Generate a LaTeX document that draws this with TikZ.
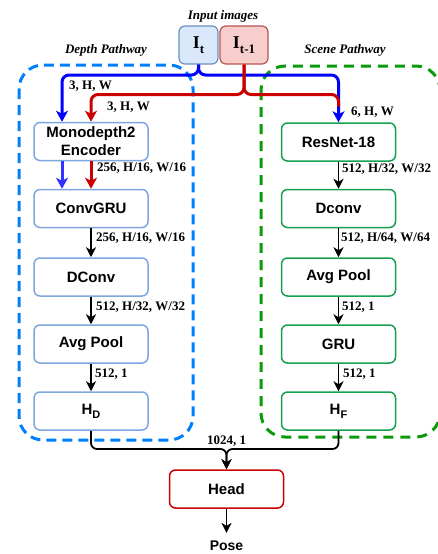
\documentclass[tikz,border=0pt]{standalone}
\usepackage{fontspec}
\setmainfont{Liberation Serif}
\setsansfont{Liberation Sans}
\usetikzlibrary{arrows.meta}
\definecolor{lblue}{HTML}{7EA6E0}
\definecolor{sgreen}{HTML}{16A050}
\definecolor{dblue}{HTML}{007FFF}
\definecolor{dgreen}{HTML}{0A9A0A}
\definecolor{arblue}{HTML}{0000FF}
\definecolor{arblue2}{HTML}{3333FF}
\definecolor{arred}{HTML}{CC0000}
\definecolor{itfill}{HTML}{DAE8FC}
\definecolor{itdraw}{HTML}{6C8EBF}
\definecolor{irfill}{HTML}{F8CECC}
\definecolor{irdraw}{HTML}{B85450}
\begin{document}
\begin{tikzpicture}[x=1pt,y=-1pt,
  blk/.style={draw, rounded corners=6pt, line width=1.5pt, minimum width=114pt, minimum height=38pt,
    font=\sffamily\bfseries\fontsize{15}{18}\selectfont, align=center, fill=white, inner sep=0pt},
  dnode/.style={blk, draw=lblue},
  snode/.style={blk, draw=sgreen},
  lab/.style={font=\bfseries\fontsize{13}{13}\selectfont, anchor=west, inner sep=0pt},
  ttl/.style={font=\bfseries\itshape\fontsize{13}{13}\selectfont, inner sep=0pt},
  arr/.style={-{Stealth[length=10pt,width=10pt,inset=3pt]}, line width=1.8pt},
  carr/.style={-{Stealth[length=11pt,width=12pt,inset=3pt]}, line width=3pt},
  dbox/.style={dashed, line width=3pt, rounded corners=24pt},
  img/.style={draw, rounded corners=6pt, line width=1.2pt, minimum height=38pt, inner sep=0pt}
]
\clip (0,0) rectangle (438,554);
\useasboundingbox (0,0) rectangle (438,554);

% dashed groups
\draw[dbox, draw=dblue, dash pattern=on 10pt off 6pt] (19,65) rectangle (193,440);
\draw[dbox, draw=dgreen, dash pattern=on 10pt off 7pt] (261,66) rectangle (440,437);

% titles
\node[ttl] (tin) at (223,16) {Input images};
\node[ttl] (tdp) at (106,50) {Depth Pathway};
\node[ttl] (tsp) at (345,50) {Scene Pathway};

% input images
\node[img, fill=itfill, draw=itdraw, minimum width=39pt] (It) at (198.5,45)
  {\fontsize{18}{18}\selectfont\bfseries I\raisebox{-4.5pt}{\fontsize{13}{13}\selectfont t}};
\node[img, fill=irfill, draw=irdraw, minimum width=48pt] (It1) at (244,45)
  {\fontsize{18}{18}\selectfont\bfseries I\raisebox{-4.5pt}{\fontsize{13}{13}\selectfont t-1}};

% depth pathway nodes
\node[dnode] (enc) at (91,141.5) {Monodepth2\\Encoder};
\node[dnode] (cgru) at (91,208.5) {ConvGRU};
\node[dnode] (dconv) at (91,277) {DConv};
\node[dnode] (apl) at (91,344) {Avg Pool};
\node[dnode] (hd) at (91,411) {H\raisebox{-4pt}{\fontsize{11}{11}\selectfont D}};

% scene pathway nodes
\node[snode] (res) at (338.5,142) {ResNet-18};
\node[snode] (dcv) at (338.5,208.5) {Dconv};
\node[snode] (apr) at (338.5,277) {Avg Pool};
\node[snode] (gru) at (338.5,344) {GRU};
\node[snode] (hf) at (338.5,411) {H\raisebox{-4pt}{\fontsize{11}{11}\selectfont F}};

% head
\node[blk, draw=arred] (head) at (226.5,489) {Head};
\node[font=\sffamily\bfseries\fontsize{14}{14}\selectfont, inner sep=0pt] (pose) at (226.5,546) {Pose};

% coloured input connectors
\coordinate (bj) at (198.5,75);
\coordinate (rj) at (244,94.5);
\coordinate (encL) at ([xshift=-29pt]enc.north);
\draw[carr, draw=arblue, rounded corners=7pt] (It.south) |- (encL |- bj) -- (encL);
\draw[carr, draw=arblue, rounded corners=7pt] (It.south) |- (res.north |- bj) -- (res.north);
\draw[line width=3pt, draw=arred, rounded corners=7pt] (It1.south) |- (res.north |- rj) -- ([yshift=-12pt]res.north |- rj);
\draw[carr, draw=arred, rounded corners=7pt] (It1.south) |- (enc.north |- rj) -- (enc.north);

\node[lab] (l1) at (69,86) {3, H, W};
\node[lab] (l2) at (107,107) {3, H, W};
\node[lab] (l3) at (351,112) {6, H, W};

% encoder to convgru
\draw[carr, draw=arblue2] ([xshift=-29pt]enc.south) -- ([xshift=-29pt]cgru.north);
\draw[carr, draw=arred] (enc.south) -- (cgru.north);
\node[lab] (l4) at (97,168) {256, H/16, W/16};

% depth chain
\draw[arr] (cgru.south) -- (dconv.north);
\node[lab] (l5) at (96,238) {256, H/16, W/16};
\draw[arr] (dconv.south) -- (apl.north);
\node[lab] (l6) at (96,307) {512, H/32, W/32};
\draw[arr] (apl.south) -- (hd.north);
\node[lab] (l7) at (95,374) {512, 1};

% scene chain
\draw[arr] (res.south) -- (dcv.north);
\node[lab] (l8) at (342,169) {512, H/32, W/32};
\draw[arr] (dcv.south) -- (apr.north);
\node[lab] (l9) at (341,238) {512, H/64, W/64};
\draw[arr] (apr.south) -- (gru.north);
\node[lab] (l10) at (342,307) {512, 1};
\draw[arr] (gru.south) -- (hf.north);
\node[lab] (l11) at (343,374) {512, 1};

% merge
\coordinate (mj) at (226.5,449);
\draw[arr, rounded corners=6pt] (hd.south) |- (mj) -- (head.north);
\draw[arr, rounded corners=6pt] (hf.south) |- (mj) -- (head.north);
\node[lab, anchor=center] (l12) at (226.5,441) {1024, 1};

\draw[arr] (head.south) -- ([yshift=8pt]pose.north);
\end{tikzpicture}
\end{document}
